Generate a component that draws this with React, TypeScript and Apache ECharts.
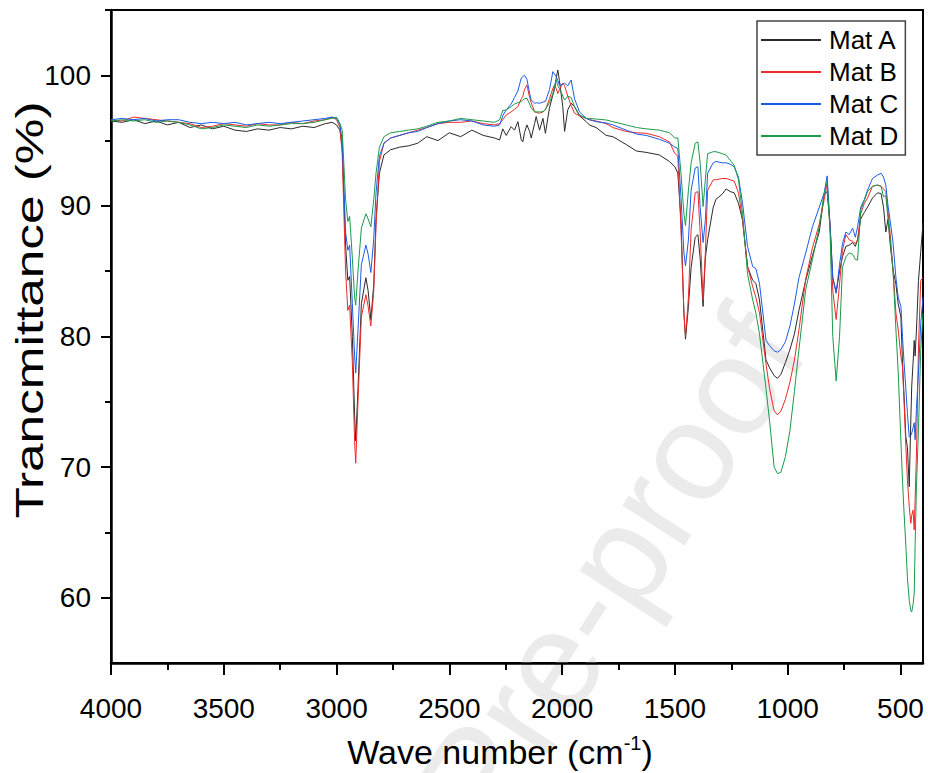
import React, { useEffect, useRef } from 'react';
import * as echarts from 'echarts';

const wavenumbers = [
  4000, 3950, 3900, 3850, 3800, 3750, 3700, 3650, 3600, 3550, 3500, 3450, 3400, 3350, 3300, 3250, 3200, 3150, 3100, 3050,
  3020, 3000, 2985, 2975, 2960, 2950, 2942, 2930, 2920, 2915, 2905, 2890, 2870, 2860, 2848, 2835, 2825, 2810, 2790, 2760,
  2720, 2680, 2640, 2600, 2550, 2500, 2450, 2400, 2350, 2300, 2277, 2263, 2248, 2226, 2211, 2196, 2181, 2174, 2167, 2156,
  2144, 2137, 2122, 2115, 2100, 2085, 2074, 2056, 2041, 2034, 2026, 2019, 2012, 1997, 1989, 1975, 1960, 1945, 1923, 1893,
  1879, 1849, 1805, 1775, 1716, 1670, 1628, 1569, 1524, 1500, 1487, 1473, 1460, 1453, 1440, 1428, 1410, 1398, 1388, 1375,
  1365, 1355, 1330, 1318, 1290, 1273, 1255, 1237, 1218, 1200, 1178, 1155, 1141, 1125, 1096, 1080, 1060, 1045, 1030, 1010,
  990, 970, 950, 920, 890, 860, 838, 825, 812, 800, 785, 770, 757, 742, 727, 712, 700, 690, 676, 660,
  646, 624, 602, 586, 575, 565, 555, 545, 533, 520, 510, 498, 491, 484, 476, 469, 461, 454, 450, 444,
  439, 435, 429, 420, 410, 400,
];

const matA = [
  96.5, 96.4, 96.6, 96.3, 96.5, 96.2, 96.4, 96.0, 96.2, 95.9, 96.1, 95.8, 95.7, 95.9, 95.8, 96.0, 95.9, 96.1, 96.0, 96.3,
  96.4, 96.2, 95.8, 94.5, 87.0, 84.3, 84.6, 80.0, 74.0, 72.0, 76.0, 82.5, 84.5, 83.5, 81.3, 84.0, 89.0, 92.5, 93.9, 94.3,
  94.5, 94.6, 94.8, 95.3, 95.0, 95.6, 95.3, 95.8, 95.4, 95.2, 95.05, 95.9, 95.4, 96.07, 95.8, 96.45, 95.05, 94.9, 95.6, 96.2,
  95.7, 95.2, 96.3, 96.84, 95.8, 96.7, 95.56, 97.5, 98.5, 98.9, 99.8, 100.4, 99.6, 97.6, 95.7, 97.35, 97.86, 97.6, 96.9, 96.45,
  96.2, 96.0, 95.4, 95.3, 94.7, 94.2, 94.1, 93.9, 93.4, 93.0, 92.5, 88.9, 81.8, 79.8, 82.3, 85.3, 87.6, 87.8, 86.0, 82.3,
  86.0, 87.4, 89.9, 90.5, 90.9, 91.3, 91.1, 91.0, 90.2, 88.9, 85.35, 84.3, 84.07, 82.8, 78.2, 77.6, 77.0, 76.8, 77.1, 78.0,
  79.0, 80.2, 82.0, 84.3, 86.2, 88.0, 90.9, 91.1, 88.5, 84.5, 83.4, 85.0, 86.1, 86.9, 87.0, 87.2, 86.9, 87.4, 89.0, 89.5,
  89.9, 90.6, 91.0, 90.95, 89.9, 88.0, 89.0, 87.0, 85.1, 84.0, 82.5, 81.5, 78.0, 75.5, 72.3, 71.5, 68.5, 73.6, 76.2, 78.0,
  79.7, 78.5, 80.5, 84.3, 86.5, 88.7,
];

const matB = [
  96.6, 96.5, 96.8, 96.7, 96.6, 96.5, 96.4, 96.3, 96.0, 96.1, 96.3, 96.2, 96.1, 96.3, 96.2, 96.2, 96.4, 96.3, 96.5, 96.6,
  96.8, 96.6, 96.0, 94.0, 85.0, 82.0, 82.4, 78.0, 72.0, 70.3, 75.0, 81.5, 83.2, 82.3, 80.8, 83.5, 88.5, 93.4, 94.8, 95.2,
  95.4, 95.6, 95.8, 96.0, 96.3, 96.4, 96.4, 96.5, 96.3, 96.2, 96.3, 96.6, 96.96, 97.2, 97.4, 97.6, 98.2, 98.4, 98.9, 99.26,
  98.3, 97.9, 97.2, 97.15, 97.1, 97.2, 97.35, 98.2, 99.0, 99.26, 99.0, 98.6, 98.9, 99.4, 99.2, 98.4, 97.7, 97.1, 96.9, 96.7,
  96.6, 96.5, 96.3, 96.0, 95.7, 95.6, 95.56, 95.3, 94.9, 94.0, 93.8, 88.2, 81.8, 80.0, 83.0, 88.2, 91.0, 91.1, 88.0, 82.8,
  86.4, 91.2, 92.0, 92.0, 92.1, 92.1, 92.0, 91.9, 91.0, 88.9, 85.4, 83.8, 83.0, 81.8, 77.9, 76.0, 74.3, 74.0, 74.3, 75.2,
  76.5, 78.2, 80.5, 84.4, 86.8, 88.6, 90.5, 91.7, 88.5, 83.5, 81.3, 84.0, 86.6, 87.8, 87.4, 87.3, 87.1, 87.4, 89.4, 90.2,
  90.6, 91.5, 91.6, 91.5, 91.3, 91.1, 89.5, 87.8, 85.1, 81.8, 80.5, 78.5, 77.7, 75.0, 71.6, 69.0, 67.0, 65.7, 66.3, 66.7,
  65.2, 67.5, 71.0, 79.2, 84.3, 84.5,
];

const matC = [
  96.6, 96.7, 96.6, 96.7, 96.5, 96.6, 96.6, 96.4, 96.3, 96.4, 96.3, 96.4, 96.2, 96.3, 96.4, 96.3, 96.4, 96.5, 96.6, 96.7,
  96.8, 96.7, 96.2, 95.0, 88.0, 86.6, 87.0, 82.5, 78.5, 77.2, 80.5, 85.5, 87.0, 86.3, 84.9, 87.5, 91.0, 93.8, 94.8, 95.2,
  95.4, 95.6, 95.7, 96.0, 96.3, 96.5, 96.6, 96.5, 96.2, 96.1, 96.2, 96.9, 97.35, 97.8, 98.3, 98.8, 99.8, 99.9, 100.0, 99.7,
  98.6, 98.1, 97.86, 97.9, 97.86, 97.95, 98.0, 98.9, 100.28, 100.1, 99.9, 99.6, 99.26, 99.3, 99.4, 99.2, 99.64, 98.2, 97.2, 96.7,
  96.6, 96.45, 96.35, 96.2, 95.8, 95.5, 95.4, 95.1, 94.8, 94.5, 94.4, 90.7, 86.4, 85.4, 87.4, 91.2, 92.9, 93.0, 89.9, 87.2,
  88.9, 92.5, 93.3, 93.4, 93.3, 93.3, 93.2, 93.0, 92.2, 90.2, 86.9, 85.35, 85.2, 84.07, 79.7, 79.3, 78.9, 78.8, 79.0, 79.6,
  80.8, 82.5, 84.5, 86.4, 88.4, 89.9, 91.0, 92.3, 88.5, 84.5, 83.3, 85.5, 87.1, 88.0, 87.8, 88.3, 87.6, 88.4, 89.9, 90.5,
  91.2, 92.1, 92.36, 92.5, 92.2, 91.6, 90.0, 88.8, 87.2, 84.5, 83.0, 82.3, 80.0, 78.0, 76.0, 74.1, 72.3, 72.4, 72.6, 73.0,
  73.4, 72.1, 74.5, 77.3, 81.0, 83.0,
];

const matD = [
  96.5, 96.6, 96.5, 96.6, 96.4, 96.5, 96.4, 96.2, 95.9, 96.0, 96.2, 96.1, 96.0, 96.2, 96.1, 96.2, 96.3, 96.3, 96.4, 96.6,
  96.7, 96.8, 96.3, 95.8, 90.5, 88.8, 89.2, 86.0, 83.0, 82.4, 85.0, 88.3, 89.4, 89.0, 88.4, 90.5, 92.5, 94.5, 95.3, 95.6,
  95.7, 95.8, 95.9, 96.1, 96.4, 96.5, 96.7, 96.6, 96.5, 96.4, 96.6, 97.3, 97.35, 97.6, 97.8, 97.9, 98.0, 98.1, 98.2, 98.24,
  97.8, 97.5, 97.2, 97.2, 97.2, 97.2, 97.4, 97.9, 98.6, 99.2, 99.64, 99.2, 99.0, 98.4, 98.1, 98.4, 98.3, 97.6, 96.96, 96.7,
  96.7, 96.65, 96.58, 96.45, 96.2, 96.0, 95.9, 95.8, 95.6, 95.2, 95.2, 92.5, 89.4, 88.5, 91.2, 93.3, 94.8, 94.9, 93.3, 89.95,
  92.0, 94.0, 94.15, 94.15, 94.0, 93.9, 93.5, 93.1, 92.0, 89.4, 84.8, 82.8, 81.8, 80.2, 76.0, 73.5, 70.0, 69.5, 69.6, 70.8,
  72.8, 75.8, 79.0, 83.6, 85.9, 88.4, 91.0, 91.85, 88.0, 80.0, 76.6, 80.0, 85.3, 86.1, 86.4, 86.3, 85.9, 85.85, 89.7, 90.4,
  91.1, 91.5, 91.6, 91.5, 90.7, 90.8, 89.0, 87.3, 85.1, 80.5, 77.3, 72.0, 69.0, 66.5, 64.0, 61.5, 59.8, 59.0, 58.9, 59.5,
  60.3, 64.0, 68.5, 73.0, 79.0, 81.8,
];

const seriesNames = ['Mat A', 'Mat B', 'Mat C', 'Mat D'];
const seriesValues = [matA, matB, matC, matD];
const seriesColors = ['#2a2a2a', '#ee2a2a', '#1a5ce8', '#1a9a4a'];

const xTickValues = [4000, 3500, 3000, 2500, 2000, 1500, 1000, 500];
const xMinorValues = [3750, 3250, 2750, 2250, 1750, 1250, 750];
const yTickValues = [60, 70, 80, 90, 100];
const yMinorValues = [65, 75, 85, 95, 105];

const xTitle = 'Wave number (cm';
const xTitleSup = '-1';
const yTitle = 'Trancmittance (%)';
const watermark = 'Journal Pre-proof';

export default function App() {
  const ref = useRef<HTMLDivElement>(null);

  useEffect(() => {
    if (!ref.current) return;
    const chart = echarts.init(ref.current, null, { renderer: 'svg' });
    const font = '"Liberation Sans", Arial, Helvetica, sans-serif';
    const plain = (v: number) => String(v);

    const baseX = {
      type: 'value',
      min: 400,
      max: 4000,
      inverse: true,
      position: 'bottom',
      splitLine: { show: false },
    };
    const baseY = {
      type: 'value',
      min: 55,
      max: 105,
      position: 'left',
      splitLine: { show: false },
    };

    chart.setOption({
      animation: false,
      backgroundColor: '#ffffff',
      textStyle: { fontFamily: font },
      grid: {
        left: 111,
        right: 5,
        top: 10,
        bottom: 110,
        show: true,
        borderColor: '#000',
        borderWidth: 2,
        backgroundColor: 'transparent',
      },
      xAxis: [
        {
          ...baseX,
          axisLine: { show: true, onZero: false, lineStyle: { color: '#000', width: 2.5 } },
          axisTick: { show: true, customValues: xTickValues, length: 12, lineStyle: { color: '#000', width: 2 } },
          axisLabel: {
            show: true,
            customValues: xTickValues,
            formatter: plain,
            fontSize: 28,
            color: '#000',
            fontFamily: font,
            margin: 31,
          },
        },
        {
          ...baseX,
          axisLine: { show: false, onZero: false },
          axisTick: { show: true, customValues: xMinorValues, length: 7, lineStyle: { color: '#000', width: 2 } },
          axisLabel: { show: false },
        },
      ],
      yAxis: [
        {
          ...baseY,
          axisLine: { show: true, onZero: false, lineStyle: { color: '#000', width: 2.5 } },
          axisTick: { show: true, customValues: yTickValues, length: 10, lineStyle: { color: '#000', width: 2 } },
          axisLabel: {
            show: true,
            customValues: yTickValues,
            formatter: plain,
            fontSize: 28,
            color: '#000',
            fontFamily: font,
            margin: 20,
          },
        },
        {
          ...baseY,
          axisLine: { show: false, onZero: false },
          axisTick: { show: true, customValues: yMinorValues, length: 6, lineStyle: { color: '#000', width: 2 } },
          axisLabel: { show: false },
        },
      ],
      legend: {
        orient: 'vertical',
        left: 757,
        top: 21,
        itemWidth: 60,
        itemHeight: 2,
        itemGap: 6,
        padding: [6, 7, 6, 4],
        borderColor: '#444',
        borderWidth: 1.5,
        backgroundColor: '#fff',
        textStyle: { fontSize: 26, color: '#000', fontFamily: font, padding: [0, 0, 0, 3] },
        data: seriesNames.map((n) => ({ name: n, icon: 'rect' })),
      },
      graphic: [
        {
          type: 'text',
          z: 0,
          silent: true,
          x: 770,
          y: 325,
          rotation: (57 * Math.PI) / 180,
          style: {
            text: watermark,
            fontSize: 140,
            fontFamily: font,
            fill: '#ebebeb',
            align: 'right',
            verticalAlign: 'middle',
          },
        },
        {
          type: 'text',
          z: 10,
          x: 500,
          y: 752,
          style: {
            text: `{a|${xTitle}}{s|${xTitleSup}}{a|)}`,
            align: 'center',
            verticalAlign: 'middle',
            fill: '#000',
            rich: {
              a: { fontSize: 34, fontFamily: font, fill: '#000', lineHeight: 38 },
              s: { fontSize: 20, fontFamily: font, fill: '#000', verticalAlign: 'top', lineHeight: 38 },
            },
          },
        },
        {
          type: 'text',
          z: 10,
          x: 30,
          y: 310,
          rotation: Math.PI / 2,
          scaleX: 1.35,
          style: {
            text: yTitle,
            fontSize: 38,
            fontFamily: font,
            fill: '#000',
            align: 'center',
            verticalAlign: 'middle',
          },
        },
      ],
      series: seriesNames.map((name, i) => ({
        name,
        type: 'line',
        xAxisIndex: 0,
        yAxisIndex: 0,
        showSymbol: false,
        symbol: 'none',
        lineStyle: { color: seriesColors[i], width: 1 },
        itemStyle: { color: seriesColors[i] },
        z: 3,
        data: wavenumbers.map((w, j) => [w, seriesValues[i][j]]),
      })),
    });

    return () => {
      chart.dispose();
    };
  }, []);

  return <div ref={ref} style={{ position: 'absolute', left: 0, top: 0, width: 928, height: 773 }} />;
}
